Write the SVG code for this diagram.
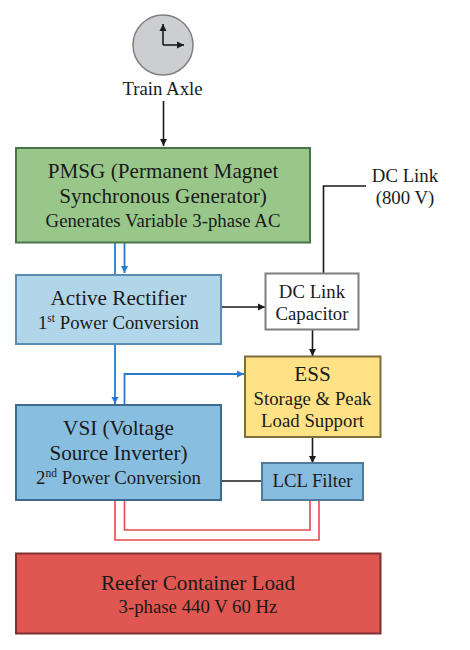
<svg xmlns="http://www.w3.org/2000/svg" width="470" height="650" viewBox="0 0 470 650">
<style>
text{font-family:"Liberation Serif","Times New Roman",serif;fill:#1a1a1a;text-anchor:middle}
.a{font-size:21.2px}.b{font-size:18.8px}.c{font-size:18.8px}
.box{stroke-width:2}
.k{fill:none;stroke:#1a1a1a;stroke-width:1.600}
.u{fill:none;stroke:#2a7bd0;stroke-width:1.800}
.r{fill:none;stroke:#e8484c;stroke-width:1.600}
</style>
<defs>
<marker id="ka" markerUnits="userSpaceOnUse" markerWidth="8" markerHeight="8" refX="7" refY="4" orient="auto"><path d="M0 0.500L7 4L0 7.500Z" fill="#1a1a1a"/></marker>
<marker id="ua" markerUnits="userSpaceOnUse" markerWidth="8" markerHeight="8" refX="7" refY="4" orient="auto"><path d="M0 0.500L7 4L0 7.500Z" fill="#2a7bd0"/></marker>
</defs>
<g id="connectors">
<path class="k" d="M163.500 101V146" marker-end="url(#ka)"/>
<path class="u" d="M115 242.500V274"/>
<path class="u" d="M124.500 242.500V273" marker-end="url(#ua)"/>
<path class="u" d="M115 344V404" marker-end="url(#ua)"/>
<path class="u" d="M124.500 404V374H244" marker-end="url(#ua)"/>
<path class="k" d="M222 307H265" marker-end="url(#ka)"/>
<path class="k" d="M323.500 273V186H366"/>
<path class="k" d="M312.500 330V356" marker-end="url(#ka)"/>
<path class="k" d="M312.500 437V463" marker-end="url(#ka)"/>
<path class="k" d="M222 481H262"/>
<path class="r" d="M124.500 500V530H310V500"/>
<path class="r" d="M115 500V540H319V500"/>
</g>
<g id="train-axle">
<circle cx="163" cy="45" r="30" fill="#cdced2" stroke="#7f7f7f" stroke-width="1.500"/>
<path class="k" d="M163 45V24" marker-end="url(#ka)"/>
<path class="k" d="M163 45H184" marker-end="url(#ka)"/>
<text class="b" x="162.500" y="94.500">Train Axle</text>
</g>
<g id="pmsg">
<rect class="box" x="16" y="148" width="294" height="94.500" fill="#99c78a" stroke="#47764a"/>
<text class="a" x="163" y="178">PMSG (Permanent Magnet</text>
<text class="a" x="163" y="203">Synchronous Generator)</text>
<text class="b" x="163" y="227">Generates Variable 3-phase AC</text>
</g>
<g id="rectifier">
<rect class="box" x="16" y="275" width="205" height="69" fill="#b1d6e9" stroke="#5b8db3"/>
<text class="a" x="118.500" y="305">Active Rectifier</text>
<text class="b" x="118.500" y="329">1<tspan font-size="11.500" dy="-7">st</tspan><tspan dy="7"> Power Conversion</tspan></text>
</g>
<g id="capacitor">
<rect class="box" x="265.500" y="273.500" width="93" height="56" fill="#fff" stroke="#7f7f7f"/>
<text class="c" x="312" y="298">DC Link</text>
<text class="c" x="312" y="320">Capacitor</text>
</g>
<g id="dc-link">
<text class="c" x="405" y="182">DC Link</text>
<text class="c" x="405" y="204">(800 V)</text>
</g>
<g id="ess">
<rect class="box" x="245" y="356.500" width="135.500" height="80.500" fill="#fee285" stroke="#7d6c3c"/>
<text class="a" x="312.500" y="381">ESS</text>
<text class="b" x="312.500" y="405">Storage &amp; Peak</text>
<text class="b" x="312.500" y="427">Load Support</text>
</g>
<g id="vsi">
<rect class="box" x="16" y="405" width="205" height="95" fill="#88bfe0" stroke="#3f6a8e"/>
<text class="a" x="118.500" y="435">VSI (Voltage</text>
<text class="a" x="118.500" y="460">Source Inverter)</text>
<text class="b" x="118.500" y="484">2<tspan font-size="11.500" dy="-7">nd</tspan><tspan dy="7"> Power Conversion</tspan></text>
</g>
<g id="lcl">
<rect class="box" x="262" y="463" width="101" height="37" fill="#88bbe0" stroke="#4f7a9c"/>
<text class="c" x="312.500" y="487">LCL Filter</text>
</g>
<g id="load">
<rect class="box" x="16" y="553.500" width="364.500" height="80" fill="#e05650" stroke="#7f3030"/>
<text class="a" x="198" y="590">Reefer Container Load</text>
<text class="b" x="198" y="613">3-phase 440 V 60 Hz</text>
</g>
</svg>
